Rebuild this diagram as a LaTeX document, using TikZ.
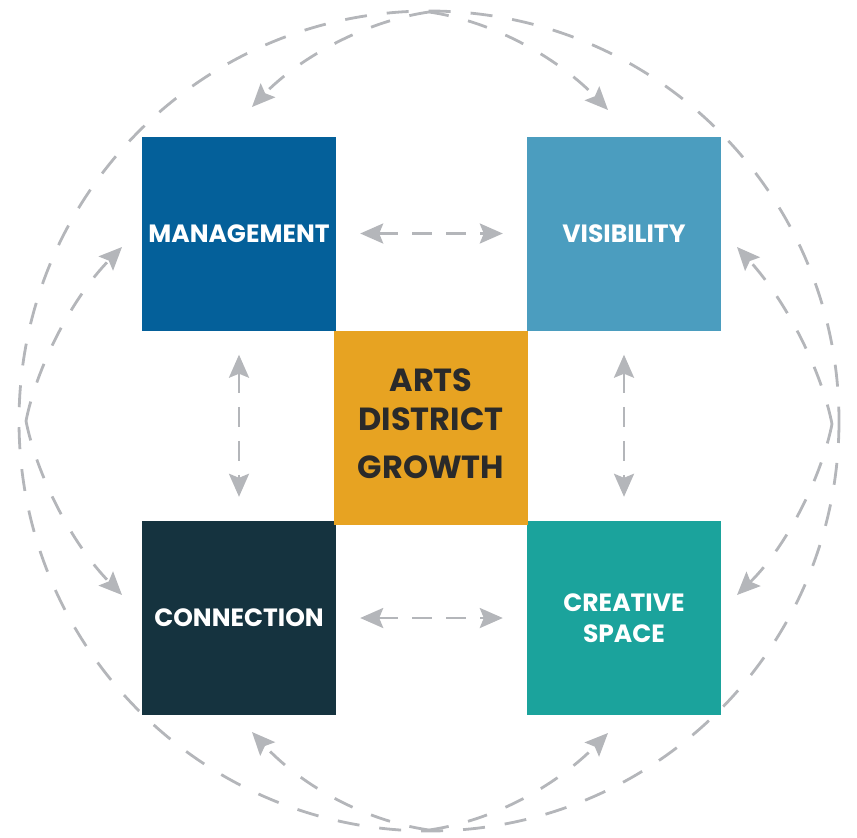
\documentclass[tikz,border=0pt]{standalone}
\usepackage{fontspec}
\setmainfont{Poppins}
\usetikzlibrary{arrows.meta}

\definecolor{mgmtblue}{HTML}{04609A}
\definecolor{visblue}{HTML}{4B9DBF}
\definecolor{growthgold}{HTML}{E7A322}
\definecolor{conndark}{HTML}{15333F}
\definecolor{spaceteal}{HTML}{1BA39C}
\definecolor{linkgray}{HTML}{B4B6BA}
\definecolor{textdark}{HTML}{2A2A2A}

\begin{document}
\begin{tikzpicture}[x=1pt,y=-1pt,
  box/.style={minimum width=194pt,minimum height=194pt,inner sep=0pt,
    text=white,align=center,font=\fontsize{25}{31}\selectfont\bfseries},
  link/.style={draw=linkgray,line width=2.8pt,dash pattern=on 20pt off 14pt,
    {Stealth[length=23pt,width=20pt,inset=4pt,fill=linkgray]}-{Stealth[length=23pt,width=20pt,inset=4pt,fill=linkgray]}},
  arc/.style={draw=linkgray,line width=2.8pt,dash pattern=on 20pt off 20pt,
    -{Stealth[length=23pt,width=20pt,inset=4pt,fill=linkgray]}},
  ring/.style={draw=linkgray,line width=2.8pt,dash pattern=on 22pt off 20pt}]

\useasboundingbox (0,0) rectangle (857,838);

\draw[ring] (429,421) circle (410);

% boxes
\node[box,fill=mgmtblue] (mgmt) at (239,233.5) {MANAGEMENT};
\node[box,fill=visblue] (vis) at (624,233.5) {VISIBILITY};
\node[box,fill=conndark] (conn) at (239,618) {CONNECTION};
\node[box,fill=spaceteal] (space) at (624,618) {CREATIVE\\SPACE};
\node[box,fill=growthgold,text=textdark,font=\fontsize{32}{39}\selectfont\bfseries] (growth) at (431,427.5) {\raisebox{3pt}{\begin{tabular}{@{}c@{}}ARTS\\DISTRICT\\[9pt]GROWTH\end{tabular}}};

% straight links
\draw[link,shorten <=24pt,shorten >=24pt] (mgmt) -- (vis);
\draw[link,shorten <=24pt,shorten >=24pt] (conn) -- (space);
\draw[link,shorten <=24pt,shorten >=24pt] (mgmt) -- (conn);
\draw[link,shorten <=24pt,shorten >=24pt] (vis) -- (space);

% points on the ring
\coordinate (ctop) at (429,12);
\coordinate (cbot) at (429,830);
\coordinate (cleft) at (26,421);
\coordinate (cright) at (832,424);

% arrow ends
\coordinate (mgtop) at (252,107);
\coordinate (vitop) at (608,110);
\coordinate (mgside) at (122,247);
\coordinate (coside) at (122,595);
\coordinate (viside) at (737,247);
\coordinate (csside) at (737,595);
\coordinate (cobot) at (252,732);
\coordinate (csbot) at (608,733);

% curved links
\draw[arc] (ctop) .. controls (360,22) and (295,62) .. (mgtop);
\draw[arc] (ctop) .. controls (498,22) and (562,62) .. (vitop);
\draw[arc] (cleft) .. controls (36,370) and (70,300) .. (mgside);
\draw[arc] (cleft) .. controls (36,472) and (70,542) .. (coside);
\draw[arc] (cright) .. controls (822,373) and (788,303) .. (viside);
\draw[arc] (cright) .. controls (822,475) and (788,545) .. (csside);
\draw[arc] (cbot) .. controls (360,820) and (298,782) .. (cobot);
\draw[arc] (cbot) .. controls (498,820) and (560,782) .. (csbot);

\end{tikzpicture}
\end{document}
